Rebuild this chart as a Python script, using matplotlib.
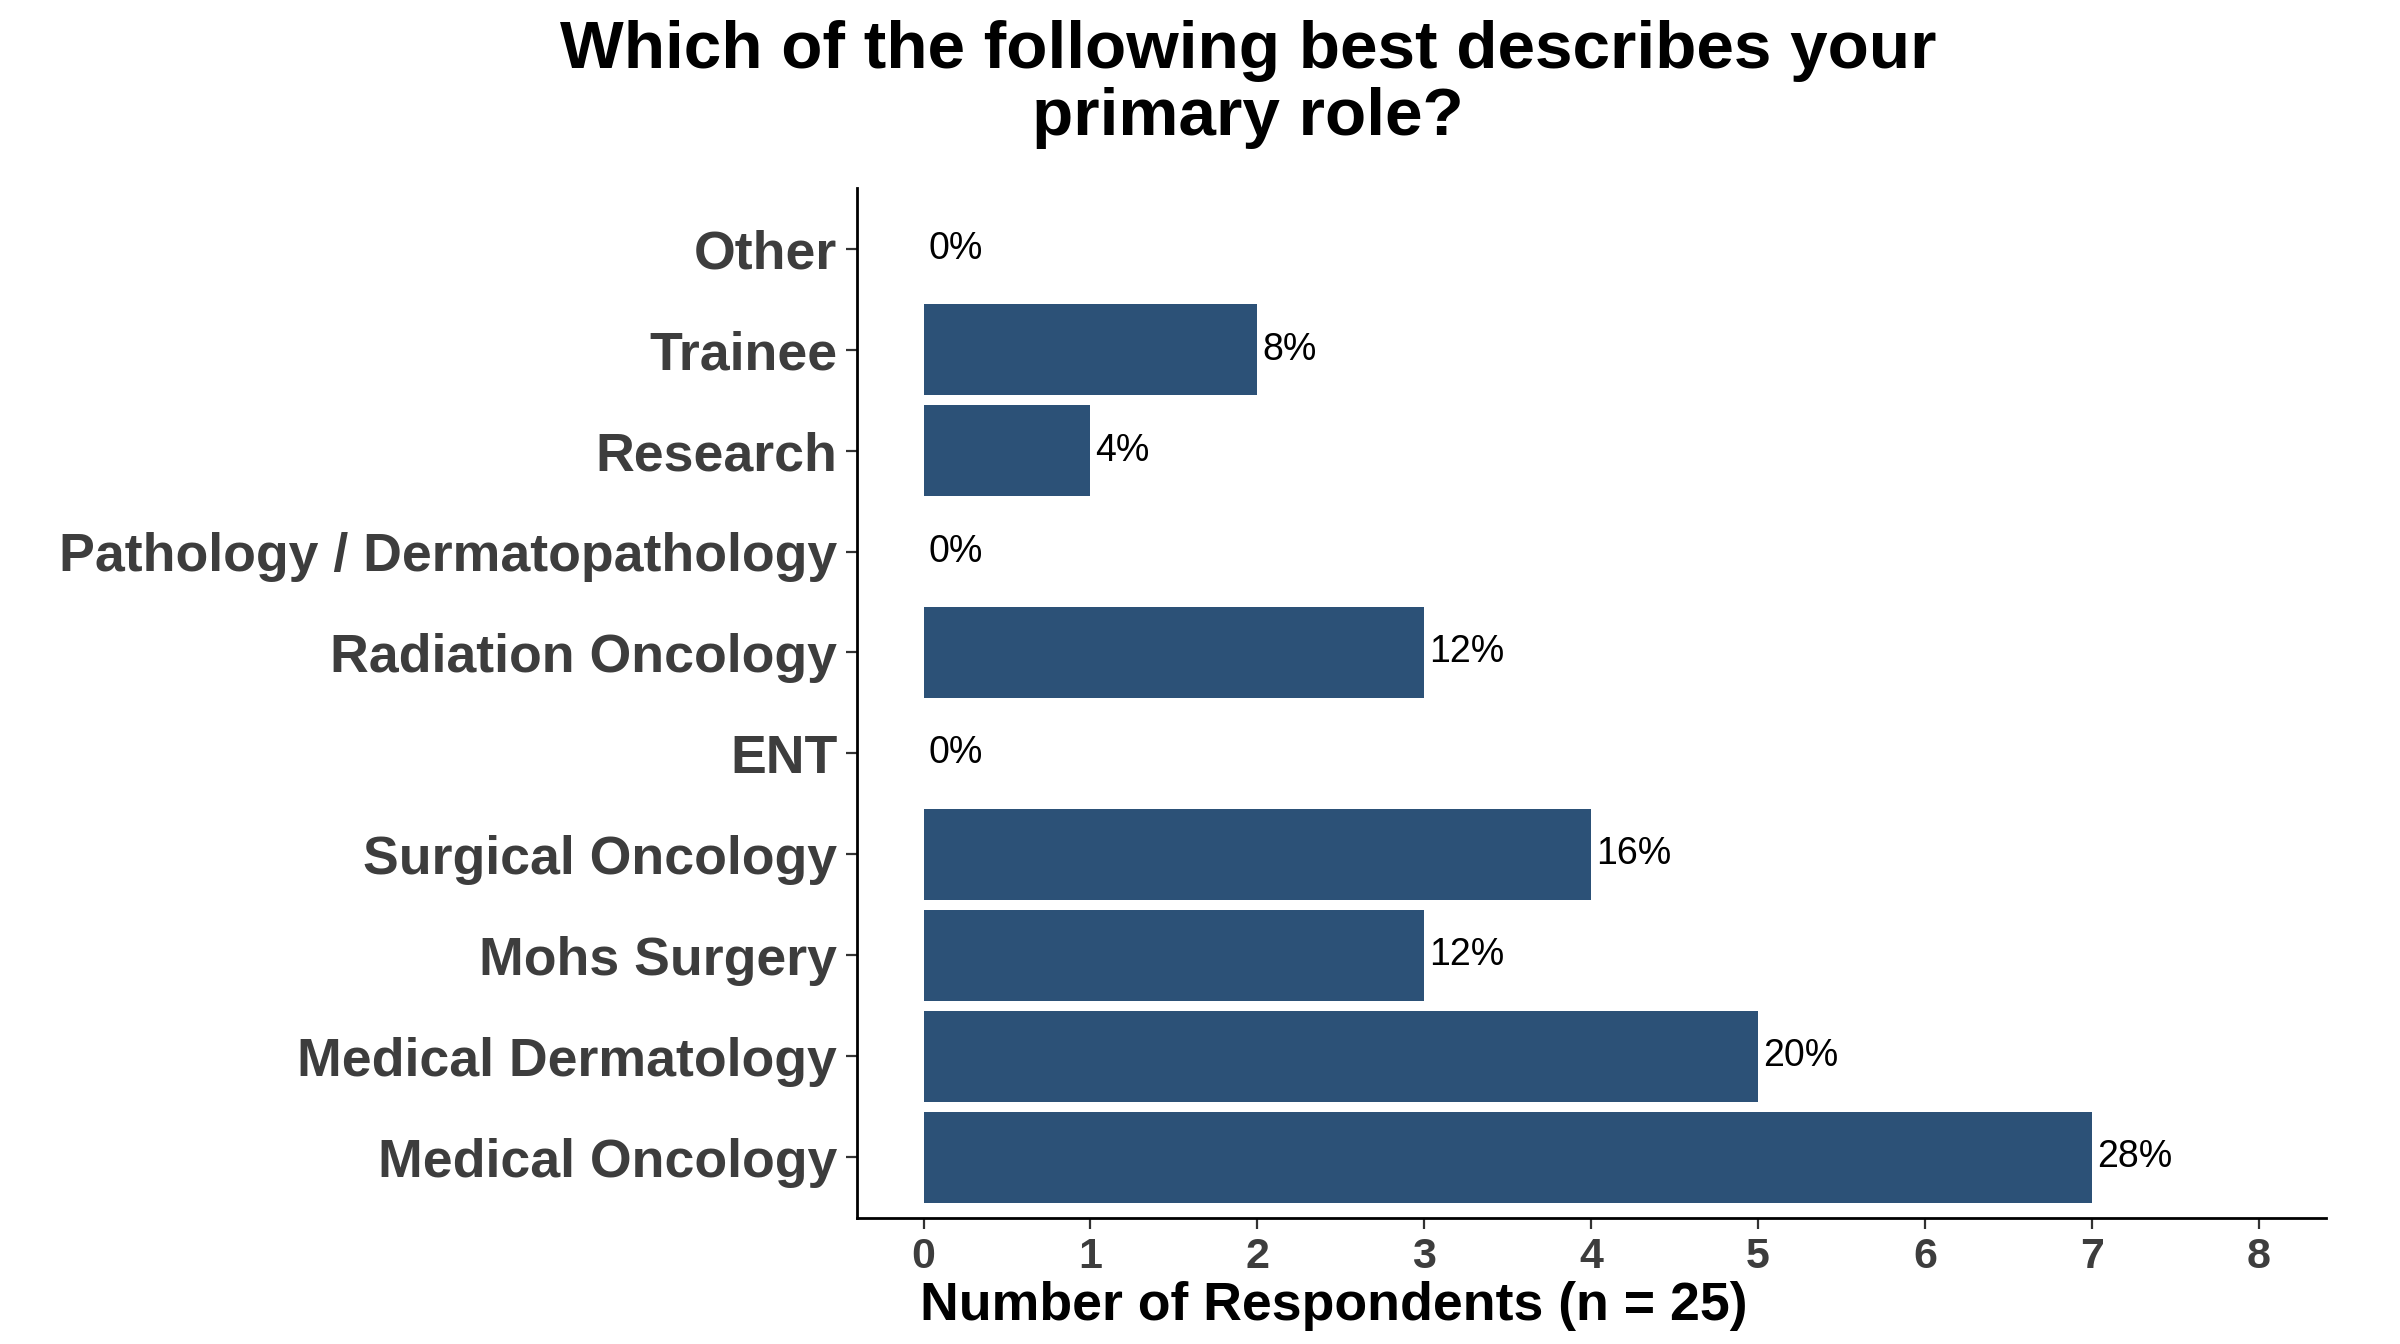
import matplotlib.pyplot as plt

plt.rcParams['font.family'] = ['Liberation Sans', 'DejaVu Sans']

roles = ['Medical Oncology', 'Medical Dermatology', 'Mohs Surgery', 'Surgical Oncology',
         'ENT', 'Radiation Oncology', 'Pathology / Dermatopathology', 'Research',
         'Trainee', 'Other']
counts = [7, 5, 3, 4, 0, 3, 0, 1, 2, 0]
n_total = 25

fig = plt.figure(figsize=(12, 6.72), dpi=200)
ax = fig.add_axes([0.357, 0.094, 0.612, 0.766])

ypos = list(range(len(roles)))
ax.barh(ypos, counts, height=0.9, color='#2c5177')
for y, c in zip(ypos, counts):
    ax.text(c + 0.03, y, f'{round(100 * c / n_total)}%', va='center', ha='left',
            fontsize=13.5, color='black')

ax.set_yticks(ypos)
ax.set_yticklabels(roles)
ax.set_xticks(range(0, 9))
ax.set_xlim(-0.4, 8.4)
ax.set_ylim(-0.6, 9.6)

for lab in ax.get_yticklabels():
    lab.set_fontsize(19.3)
    lab.set_fontweight('bold')
    lab.set_color('#3d3d3d')
for lab in ax.get_xticklabels():
    lab.set_fontsize(15.5)
    lab.set_fontweight('bold')
    lab.set_color('#3d3d3d')

ax.tick_params(axis='both', length=4, width=0.8, color='#333333', pad=3)
ax.spines['top'].set_visible(False)
ax.spines['right'].set_visible(False)
ax.spines['left'].set_linewidth(1.0)
ax.spines['bottom'].set_linewidth(1.0)

ax.set_xlabel('Number of Respondents (n = 25)', fontsize=19.3, fontweight='bold', labelpad=5)
ax.xaxis.set_label_coords(0.325, -0.062)
fig.suptitle('Which of the following best describes your\nprimary role?', x=0.52, y=0.985,
             fontsize=24.3, fontweight='bold', linespacing=1.1)

fig.savefig('out.png', dpi=200)
